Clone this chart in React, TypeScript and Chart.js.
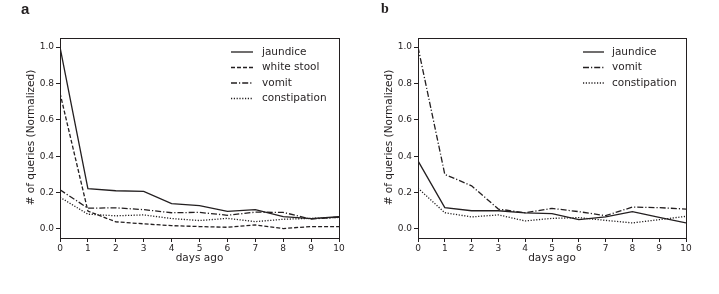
import React, { useEffect, useRef } from "react";
import { Chart, registerables } from "chart.js";

Chart.register(...registerables);

const days = [0, 1, 2, 3, 4, 5, 6, 7, 8, 9, 10];
const yTicks = [0, 0.2, 0.4, 0.6, 0.8, 1.0];

const aJaundice = [1.0, 0.221, 0.21, 0.206, 0.139, 0.128, 0.096, 0.106, 0.068, 0.057, 0.067];
const aWhiteStool = [0.747, 0.098, 0.039, 0.028, 0.018, 0.013, 0.009, 0.022, 0.002, 0.013, 0.013];
const aVomit = [0.215, 0.114, 0.116, 0.106, 0.089, 0.091, 0.075, 0.092, 0.091, 0.054, 0.065];
const aConstipation = [0.174, 0.081, 0.072, 0.077, 0.057, 0.046, 0.058, 0.04, 0.053, 0.058, 0.063];

const bJaundice = [0.374, 0.117, 0.1, 0.1, 0.088, 0.084, 0.051, 0.066, 0.095, 0.064, 0.033];
const bVomit = [1.0, 0.3, 0.237, 0.109, 0.089, 0.113, 0.095, 0.073, 0.12, 0.117, 0.109];
const bConstipation = [0.224, 0.089, 0.066, 0.077, 0.044, 0.058, 0.062, 0.047, 0.033, 0.051, 0.069];

const INK = "#231f20";
const FONT = "'DejaVu Sans', sans-serif";

const DASH_SOLID: number[] = [];
const DASH_DASHED = [4, 2];
const DASH_DASHDOT = [6, 2, 1.2, 2];
const DASH_DOTTED = [1.2, 1.6];

type Series = { label: string; data: number[]; dash: number[] };

interface PanelProps {
  left: number;
  width: number;
  axisWidth: number;
  padRight: number;
  series: Series[];
  legendLineX: number;
  legendLineLen: number;
  legendTextX: number;
}

function Panel(props: PanelProps) {
  const ref = useRef<HTMLCanvasElement | null>(null);
  useEffect(() => {
    if (!ref.current) return;
    const { series, axisWidth, padRight, legendLineX, legendLineLen, legendTextX } = props;
    const framePlugin = {
      id: "frameLegend",
      afterDraw(chart: any) {
        const ctx = chart.ctx as CanvasRenderingContext2D;
        const a = chart.chartArea;
        ctx.save();
        ctx.strokeStyle = INK;
        ctx.lineWidth = 1;
        ctx.setLineDash([]);
        ctx.strokeRect(Math.round(a.left) + 0.5, Math.round(a.top) + 0.5, Math.round(a.right - a.left), Math.round(a.bottom - a.top));
        // legend
        ctx.font = `10.5px ${FONT}`;
        ctx.fillStyle = INK;
        ctx.textBaseline = "middle";
        ctx.textAlign = "left";
        series.forEach((s, i) => {
          const y = 52 + i * 15.5;
          ctx.beginPath();
          ctx.lineWidth = 1.3;
          ctx.setLineDash(s.dash);
          ctx.moveTo(legendLineX, y);
          ctx.lineTo(legendLineX + legendLineLen, y);
          ctx.stroke();
          ctx.setLineDash([]);
          ctx.fillText(s.label, legendTextX, y);
        });
        // axis titles
        ctx.font = `10.5px ${FONT}`;
        ctx.textAlign = "center";
        ctx.fillText("days ago", (a.left + a.right) / 2, 258);
        ctx.save();
        ctx.translate(a.left - 29, 137.5);
        ctx.rotate(-Math.PI / 2);
        ctx.fillText("# of queries (Normalized)", 0, 0);
        ctx.restore();
        ctx.restore();
      },
    };
    const chart = new Chart(ref.current, {
      type: "line",
      data: {
        labels: days,
        datasets: series.map((s) => ({
          label: s.label,
          data: s.data.map((v, i) => ({ x: days[i], y: v })),
          borderColor: INK,
          borderWidth: 1.3,
          borderDash: s.dash,
          pointRadius: 0,
          tension: 0,
          fill: false,
        })),
      },
      options: {
        responsive: false,
        animation: false,
        layout: { padding: { top: 38, right: padRight, left: 0, bottom: 0 } },
        plugins: { legend: { display: false }, tooltip: { enabled: false } },
        scales: {
          x: {
            type: "linear",
            min: 0,
            max: 10,
            afterBuildTicks: (scale: any) => {
              scale.ticks = days.map((v) => ({ value: v }));
            },
            afterFit: (scale: any) => {
              scale.height = 56;
            },
            grid: { drawOnChartArea: false, drawTicks: true, tickLength: 4, tickColor: INK, color: INK },
            border: { display: false },
            ticks: { color: INK, font: { family: FONT, size: 9 }, padding: 1, maxRotation: 0, autoSkip: false },
          },
          y: {
            type: "linear",
            min: -0.05,
            max: 1.05,
            afterBuildTicks: (scale: any) => {
              scale.ticks = yTicks.map((v) => ({ value: v }));
            },
            afterFit: (scale: any) => {
              scale.width = axisWidth;
            },
            grid: { drawOnChartArea: false, drawTicks: true, tickLength: 4, tickColor: INK, color: INK },
            border: { display: false },
            ticks: {
              color: INK,
              font: { family: FONT, size: 9 },
              padding: 2,
              autoSkip: false,
              callback: (v: any) => Number(v).toFixed(1),
            },
          },
        },
      },
      plugins: [framePlugin],
    } as any);
    return () => chart.destroy();
  }, []);
  return (
    <canvas
      ref={ref}
      width={props.width}
      height={294}
      style={{ position: "absolute", left: props.left, top: 0, width: props.width, height: 294 }}
    />
  );
}

export default function App() {
  return (
    <div style={{ position: "fixed", left: 0, top: 0, width: 719, height: 294, background: "#fff", overflow: "hidden" }}>
      <Panel
        left={0}
        width={360}
        axisWidth={60}
        padRight={21}
        series={[
          { label: "jaundice", data: aJaundice, dash: DASH_SOLID },
          { label: "white stool", data: aWhiteStool, dash: DASH_DASHED },
          { label: "vomit", data: aVomit, dash: DASH_DASHDOT },
          { label: "constipation", data: aConstipation, dash: DASH_DOTTED },
        ]}
        legendLineX={231}
        legendLineLen={22}
        legendTextX={262}
      />
      <Panel
        left={360}
        width={359}
        axisWidth={58}
        padRight={33}
        series={[
          { label: "jaundice", data: bJaundice, dash: DASH_SOLID },
          { label: "vomit", data: bVomit, dash: DASH_DASHDOT },
          { label: "constipation", data: bConstipation, dash: DASH_DOTTED },
        ]}
        legendLineX={223}
        legendLineLen={21}
        legendTextX={252}
      />
      <div style={{ position: "absolute", left: 21, top: 0, fontFamily: "'Liberation Sans', Arial, sans-serif", fontWeight: 700, fontSize: 15, lineHeight: "17px", color: INK }}>a</div>
      <div style={{ position: "absolute", left: 381, top: 1, fontFamily: "'Liberation Serif', 'Times New Roman', serif", fontWeight: 700, fontSize: 14, lineHeight: "16px", color: INK }}>b</div>
    </div>
  );
}
